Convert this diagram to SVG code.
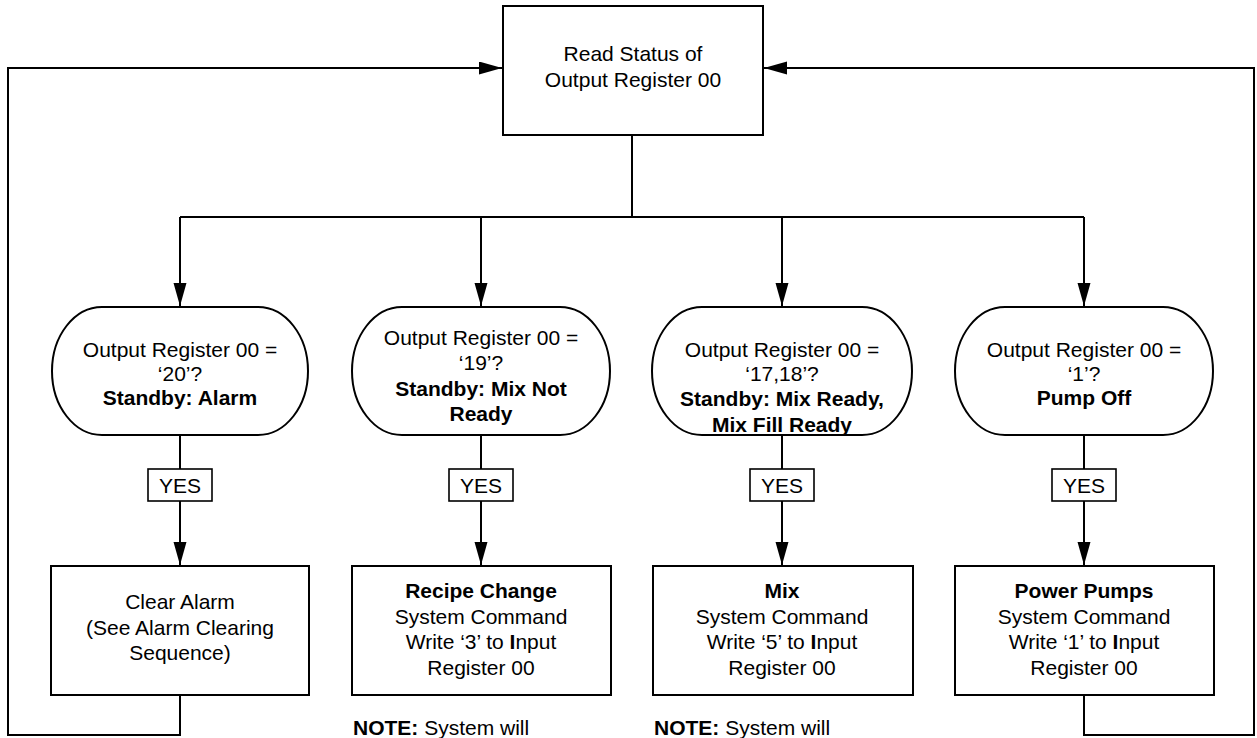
<svg xmlns="http://www.w3.org/2000/svg" width="1257" height="738" viewBox="0 0 1257 738">
<style>
.box{fill:#fff;stroke:#000;stroke-width:2}
.yes{fill:#fff;stroke:#000;stroke-width:1.6}
.ln{fill:none;stroke:#000;stroke-width:2}
text{font-family:"Liberation Sans",Arial,sans-serif;font-size:21px;fill:#000;text-anchor:middle}
.b{font-weight:bold}
.note{text-anchor:start}
</style>
<defs>
<marker id="ah" markerUnits="userSpaceOnUse" markerWidth="24" markerHeight="14" refX="23" refY="6.5" orient="auto">
<path d="M0,0 L23,6.5 L0,13 z" fill="#000"/>
</marker>
</defs>
<g id="connectors">
<path class="ln" d="M632,136 V217"/>
<path class="ln" d="M180,217 H1084"/>
<path class="ln" d="M180,217 V306" marker-end="url(#ah)"/>
<path class="ln" d="M481,217 V306" marker-end="url(#ah)"/>
<path class="ln" d="M782,217 V306" marker-end="url(#ah)"/>
<path class="ln" d="M1084,217 V306" marker-end="url(#ah)"/>
<path class="ln" d="M180,435 V469 M180,501 V565" marker-end="url(#ah)"/>
<path class="ln" d="M481,435 V469 M481,501 V565" marker-end="url(#ah)"/>
<path class="ln" d="M782,435 V469 M782,501 V565" marker-end="url(#ah)"/>
<path class="ln" d="M1084,435 V469 M1084,501 V565" marker-end="url(#ah)"/>
<path class="ln" d="M180,695 V735 H8 V68 H502" marker-end="url(#ah)"/>
<path class="ln" d="M1084,695 V735 H1254 V68 H764" marker-end="url(#ah)"/>
</g>
<g id="read-status">
<rect class="box" x="503" y="6" width="260" height="129"/>
<text x="633" y="61">Read Status of</text>
<text x="633" y="87">Output Register 00</text>
</g>
<g id="q20">
<rect class="box" x="52" y="307" width="256" height="128" rx="50" ry="64"/>
<text x="180" y="357">Output Register 00 =</text>
<text x="180" y="381">‘20’?</text>
<text x="180" y="405" class="b">Standby: Alarm</text>
</g>
<g id="q19">
<rect class="box" x="352" y="307" width="258" height="128" rx="50" ry="64"/>
<text x="481" y="345">Output Register 00 =</text>
<text x="481" y="370">‘19’?</text>
<text x="481" y="396" class="b">Standby: Mix Not</text>
<text x="481" y="421" class="b">Ready</text>
</g>
<g id="q1718">
<rect class="box" x="652" y="307" width="260" height="128" rx="50" ry="64"/>
<text x="782" y="357">Output Register 00 =</text>
<text x="782" y="381">‘17,18’?</text>
<text x="782" y="406" class="b">Standby: Mix Ready,</text>
<text x="782" y="432" class="b">Mix Fill Ready</text>
</g>
<g id="q1">
<rect class="box" x="955" y="307" width="258" height="128" rx="50" ry="64"/>
<text x="1084" y="357">Output Register 00 =</text>
<text x="1084" y="381">‘1’?</text>
<text x="1084" y="405" class="b">Pump Off</text>
</g>
<g id="yes1"><rect class="yes" x="148" y="469" width="64" height="32"/><text x="180" y="493">YES</text></g>
<g id="yes2"><rect class="yes" x="449" y="469" width="64" height="32"/><text x="481" y="493">YES</text></g>
<g id="yes3"><rect class="yes" x="750" y="469" width="64" height="32"/><text x="782" y="493">YES</text></g>
<g id="yes4"><rect class="yes" x="1052" y="469" width="64" height="32"/><text x="1084" y="493">YES</text></g>
<g id="clear-alarm">
<rect class="box" x="51" y="566" width="258" height="129"/>
<text x="180" y="609">Clear Alarm</text>
<text x="180" y="635">(See Alarm Clearing</text>
<text x="180" y="660">Sequence)</text>
</g>
<g id="recipe-change">
<rect class="box" x="352" y="566" width="259" height="129"/>
<text x="481" y="598" class="b">Recipe Change</text>
<text x="481" y="624">System Command</text>
<text x="481" y="649">Write ‘3’ to <tspan class="b">I</tspan>nput</text>
<text x="481" y="675">Register 00</text>
</g>
<g id="mix">
<rect class="box" x="653" y="566" width="260" height="129"/>
<text x="782" y="598" class="b">Mix</text>
<text x="782" y="624">System Command</text>
<text x="782" y="649">Write ‘5’ to <tspan class="b">I</tspan>nput</text>
<text x="782" y="675">Register 00</text>
</g>
<g id="power-pumps">
<rect class="box" x="955" y="566" width="259" height="129"/>
<text x="1084" y="598" class="b">Power Pumps</text>
<text x="1084" y="624">System Command</text>
<text x="1084" y="649">Write ‘1’ to <tspan class="b">I</tspan>nput</text>
<text x="1084" y="675">Register 00</text>
</g>
<g id="notes">
<text class="note" x="353" y="735"><tspan class="b">NOTE:</tspan> System will</text>
<text class="note" x="654" y="735"><tspan class="b">NOTE:</tspan> System will</text>
</g>
</svg>
